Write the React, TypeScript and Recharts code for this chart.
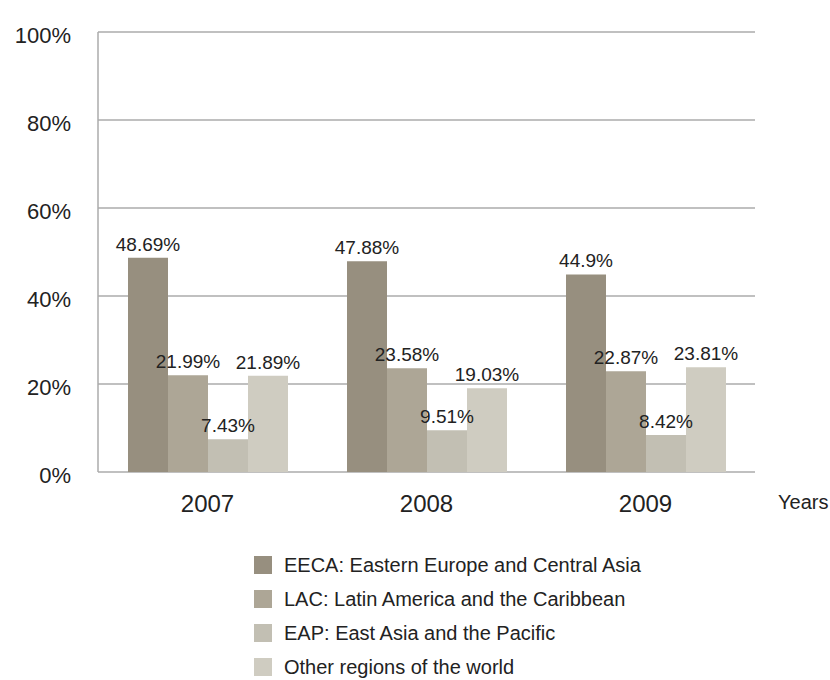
import { Bar, BarChart, CartesianGrid, LabelList, Legend, XAxis, YAxis } from 'recharts'

const years = ['2007', '2008', '2009']
const eeca = [48.69, 47.88, 44.9]
const lac = [21.99, 23.58, 22.87]
const eap = [7.43, 9.51, 8.42]
const other = [21.89, 19.03, 23.81]
const yTicks = [0, 20, 40, 60, 80, 100]

const SERIES = [
  { key: 'eeca', name: 'EECA: Eastern Europe and Central Asia', color: '#978f7f', values: eeca },
  { key: 'lac', name: 'LAC: Latin America and the Caribbean', color: '#ada696', values: lac },
  { key: 'eap', name: 'EAP: East Asia and the Pacific', color: '#c2bfb3', values: eap },
  { key: 'other', name: 'Other regions of the world', color: '#cfccc1', values: other },
]

const data = years.map((year, i) => {
  const row: Record<string, string | number> = { year }
  SERIES.forEach((s) => {
    row[s.key] = s.values[i]
  })
  return row
})

const GRID = '#ababab'
const TEXT = '#222'

// keep legend rows in series order (recharts sorts by name otherwise)
function LegendList({ payload }: { payload?: any[] }) {
  const order = SERIES.map((s) => s.name)
  const items = [...(payload ?? [])].sort((a, b) => order.indexOf(a.value) - order.indexOf(b.value))
  return (
    <div>
      {items.map((entry) => (
        <div key={entry.value} style={{ display: 'flex', alignItems: 'center', height: 34 }}>
          <span style={{ width: 18, height: 18, background: entry.color, marginRight: 12 }} />
          <span style={{ fontSize: 20, lineHeight: '22px', color: TEXT }}>{entry.value}</span>
        </div>
      ))}
    </div>
  )
}

export default function App() {
  return (
    <div
      style={{
        position: 'absolute',
        left: 0,
        top: 0,
        width: 830,
        height: 680,
        background: '#fff',
        fontFamily: '"Liberation Sans", Arial, sans-serif',
      }}
    >
      <BarChart
        width={830}
        height={680}
        data={data}
        margin={{ top: 32, right: 75, bottom: 148, left: 0 }}
        barGap={0}
        barSize={40}
      >
        <CartesianGrid vertical={false} stroke={GRID} strokeWidth={1.5} />
        <XAxis
          dataKey="year"
          axisLine={false}
          tickLine={false}
          tickSize={0}
          tickMargin={23}
          height={60}
          tick={{ fontSize: 24, fill: TEXT }}
          label={{ value: 'Years', position: 'right', offset: 23, fontSize: 20, fill: TEXT }}
        />
        <YAxis
          width={98}
          domain={[0, 100]}
          ticks={yTicks}
          tickFormatter={(v) => `${v}%`}
          axisLine={{ stroke: GRID, strokeWidth: 1.5 }}
          tickLine={false}
          tickSize={0}
          tickMargin={27}
          tick={{ fontSize: 22, fill: TEXT, dy: 3 }}
        />
        <Legend
          layout="vertical"
          align="center"
          verticalAlign="middle"
          content={<LegendList />}
          wrapperStyle={{ top: 548, left: 254, width: 420 }}
        />
        {SERIES.map((s) => (
          <Bar key={s.key} dataKey={s.key} name={s.name} fill={s.color} isAnimationActive={false}>
            <LabelList
              dataKey={s.key}
              position="top"
              offset={7}
              formatter={(v: any) => `${v}%`}
              style={{ fontSize: 19, fill: TEXT }}
            />
          </Bar>
        ))}
      </BarChart>
    </div>
  )
}
